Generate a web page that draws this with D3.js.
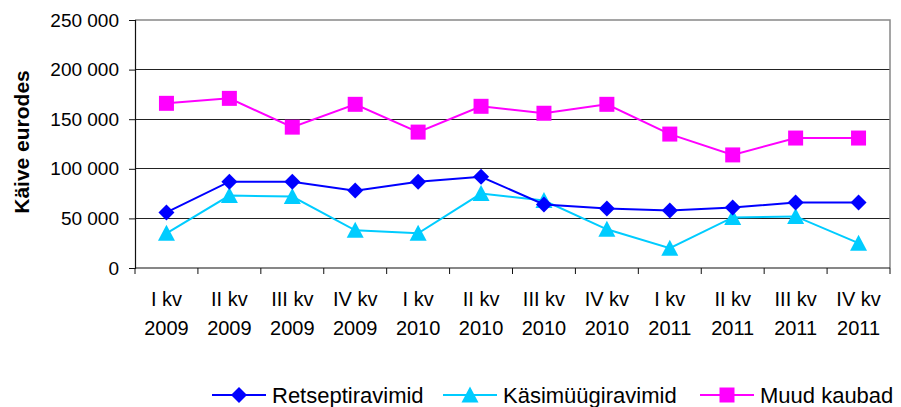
<!DOCTYPE html>
<html>
<head>
<meta charset="utf-8">
<script src="https://cdn.jsdelivr.net/npm/d3@7"></script>
<style>
  body { margin: 0; background: white; }
  svg text { font-family: Arial, "Liberation Sans", sans-serif; fill: black; }
</style>
</head>
<body>
<div id="chart"></div>
<script>
const quarters = ["I kv", "II kv", "III kv", "IV kv", "I kv", "II kv", "III kv", "IV kv", "I kv", "II kv", "III kv", "IV kv"];
const years = ["2009", "2009", "2009", "2009", "2010", "2010", "2010", "2010", "2011", "2011", "2011", "2011"];
const retsept = [56000, 87000, 87000, 78000, 87000, 92000, 64000, 60000, 58000, 61000, 66000, 66000];
const kasimuuk = [35000, 73000, 72000, 38000, 35000, 75000, 68000, 39000, 20000, 51000, 52000, 25000];
const muud = [166000, 171000, 142000, 165000, 137000, 163000, 156000, 165000, 135000, 114000, 131000, 131000];
const yTicks = [0, 50000, 100000, 150000, 200000, 250000];

const series = [
  {name: "Retseptiravimid", values: retsept, color: "#0000ff", symbol: "diamond"},
  {name: "Käsimüügiravimid", values: kasimuuk, color: "#00ccff", symbol: "triangle"},
  {name: "Muud kaubad", values: muud, color: "#ff00ff", symbol: "square"}
];

const width = 901, height = 407;
const plot = {left: 135, right: 890, top: 20, bottom: 268};

const svg = d3.select("#chart").append("svg")
    .attr("width", width)
    .attr("height", height);

const idx = d3.range(quarters.length);
const x = d3.scaleBand().domain(idx).range([plot.left, plot.right]).padding(0);
const y = d3.scaleLinear().domain([0, 250000]).range([plot.bottom, plot.top]);

const fmt = v => d3.format(",")(v).replace(/,/g, " ");

// gridlines
svg.append("g").selectAll("line")
    .data(yTicks.filter(t => t > 0 && t < 250000))
    .enter().append("line")
    .attr("x1", plot.left).attr("x2", plot.right)
    .attr("y1", d => y(d)).attr("y2", d => y(d))
    .attr("stroke", "#222").attr("stroke-width", 1)
    .attr("shape-rendering", "crispEdges");

// top and right border
svg.append("path")
    .attr("d", `M${plot.left},${plot.top}H${plot.right}V${plot.bottom}`)
    .attr("fill", "none").attr("stroke", "#888").attr("stroke-width", 1.5);

// y axis
const yAxis = svg.append("g").attr("transform", `translate(${plot.left},0)`)
    .call(d3.axisLeft(y).tickValues(yTicks).tickFormat(fmt).tickSize(6).tickPadding(10));
yAxis.select(".domain").attr("stroke", "#111").attr("stroke-width", 1.2);
yAxis.selectAll(".tick line").attr("stroke", "#111");
yAxis.selectAll("text").style("font-size", "19px").attr("fill", "black")
    .attr("font-family", "Arial, 'Liberation Sans', sans-serif");

// x axis (ticks on category boundaries)
const xb = svg.append("g");
xb.append("line")
    .attr("x1", plot.left).attr("x2", plot.right)
    .attr("y1", plot.bottom).attr("y2", plot.bottom)
    .attr("stroke", "#111").attr("stroke-width", 1.2);
xb.selectAll(".xt")
    .data(d3.range(quarters.length + 1))
    .enter().append("line")
    .attr("x1", i => plot.left + i * x.bandwidth())
    .attr("x2", i => plot.left + i * x.bandwidth())
    .attr("y1", plot.bottom).attr("y2", plot.bottom + 6)
    .attr("stroke", "#111");

const lab = svg.append("g").selectAll("g")
    .data(idx).enter().append("g")
    .attr("transform", i => `translate(${x(i) + x.bandwidth() / 2},0)`);
lab.append("text").attr("y", 306).attr("text-anchor", "middle")
    .style("font-size", "20px").text(i => quarters[i]);
lab.append("text").attr("y", 335).attr("text-anchor", "middle")
    .style("font-size", "20px").text(i => years[i]);

// y title
svg.append("text")
    .attr("transform", "translate(29,142) rotate(-90)")
    .attr("text-anchor", "middle")
    .style("font-size", "21px").style("font-weight", "bold")
    .text("Käive eurodes");

function symbolPath(type) {
  if (type === "diamond") return "M0,-8L8,0L0,8L-8,0Z";
  if (type === "triangle") return "M0,-8.5L8.5,7.5L-8.5,7.5Z";
  return "M-7.5,-7.5H7.5V7.5H-7.5Z";
}

const line = d3.line()
    .x((d, i) => x(i) + x.bandwidth() / 2)
    .y(d => y(d));

// draw in order: magenta, cyan, blue on top
[series[2], series[1], series[0]].forEach(s => {
  svg.append("path")
      .datum(s.values)
      .attr("d", line)
      .attr("fill", "none")
      .attr("stroke", s.color)
      .attr("stroke-width", 2);
  svg.append("g").selectAll("path")
      .data(s.values).enter().append("path")
      .attr("transform", (d, i) => `translate(${x(i) + x.bandwidth() / 2},${y(d)})`)
      .attr("d", symbolPath(s.symbol))
      .attr("fill", s.color);
});

// legend
const legendX = [212, 443, 700];
const legend = svg.append("g").selectAll("g")
    .data(series).enter().append("g")
    .attr("transform", (d, i) => `translate(${legendX[i]},395)`);
legend.append("line")
    .attr("x1", 0).attr("x2", 54).attr("y1", 0).attr("y2", 0)
    .attr("stroke", d => d.color).attr("stroke-width", 2);
legend.append("path")
    .attr("transform", "translate(27,0)")
    .attr("d", d => symbolPath(d.symbol))
    .attr("fill", d => d.color);
legend.append("text")
    .attr("x", 60).attr("y", 8)
    .style("font-size", "22px")
    .text(d => d.name);
</script>
</body>
</html>
